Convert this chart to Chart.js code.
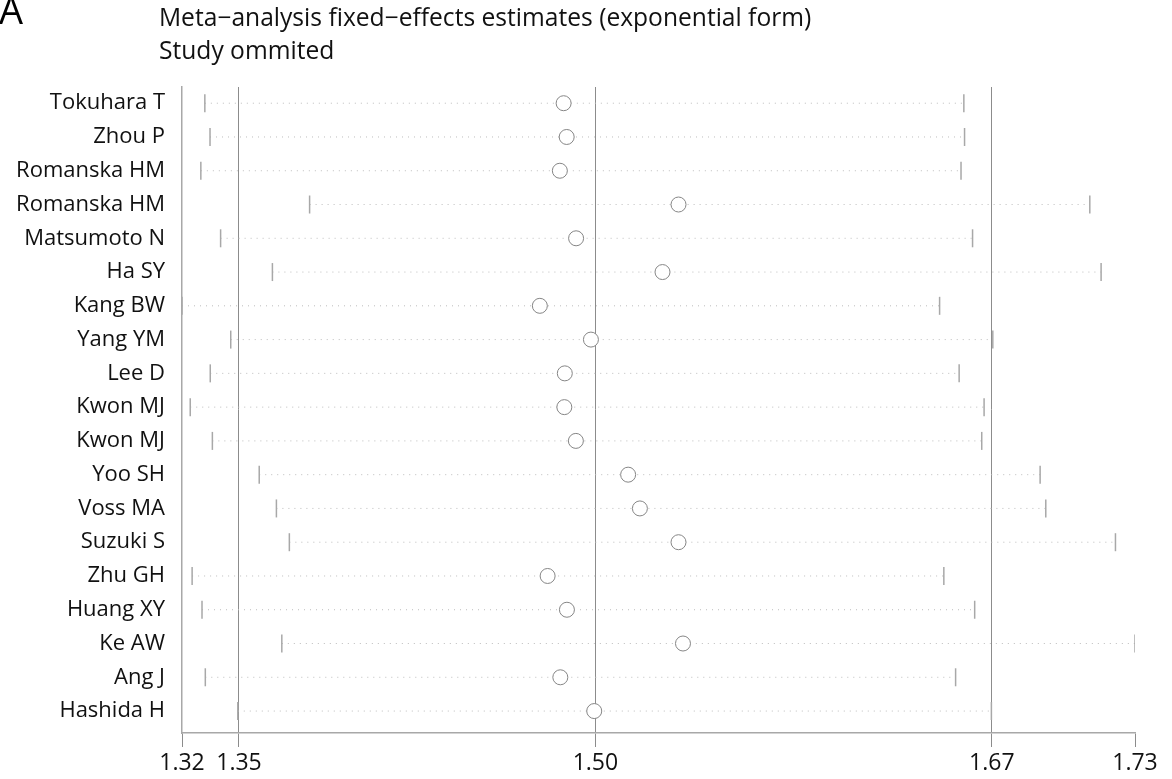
<!DOCTYPE html>
<html>
<head>
<meta charset="utf-8">
<script src="https://cdn.jsdelivr.net/npm/chart.js@4/dist/chart.umd.min.js"></script>
<style>
  html, body { margin: 0; padding: 0; background: #fff; }
  #wrap { position: relative; width: 1172px; height: 779px; overflow: hidden; }
  #panel { position: absolute; left: -1px; top: -17px; font: 38px "Open Sans", sans-serif; color: #000; }
  .title { position: absolute; left: 159px; font: 24.6px "Open Sans", sans-serif; color: #111; white-space: nowrap; }
</style>
</head>
<body>
<div id="wrap">
  <div id="panel">A</div>
  <div class="title" style="top:0px">Meta−analysis fixed−effects estimates (exponential form)</div>
  <div class="title" style="top:33px">Study ommited</div>
  <canvas id="chart" width="1172" height="779"></canvas>
</div>
<script>
// studies omitted, top to bottom
const studies = ['Tokuhara T', 'Zhou P', 'Romanska HM', 'Romanska HM', 'Matsumoto N', 'Ha SY', 'Kang BW',
  'Yang YM', 'Lee D', 'Kwon MJ', 'Kwon MJ', 'Yoo SH', 'Voss MA', 'Suzuki S', 'Zhu GH', 'Huang XY',
  'Ke AW', 'Ang J', 'Hashida H'];

// pooled estimate with study omitted, and its 95% CI
const estimate = [1.4865, 1.4878, 1.4849, 1.5353, 1.4918, 1.5285, 1.4764, 1.4981, 1.4870, 1.4868,
  1.4917, 1.5139, 1.5189, 1.5353, 1.4797, 1.4879, 1.5372, 1.4851, 1.4995];
const lower = [1.3341, 1.3363, 1.3324, 1.3786, 1.3408, 1.3628, 1.3244, 1.3451, 1.3364, 1.3279,
  1.3373, 1.3572, 1.3645, 1.3700, 1.3287, 1.3329, 1.3668, 1.3343, 1.3481];
const upper = [1.6565, 1.6568, 1.6553, 1.7100, 1.6602, 1.7148, 1.6462, 1.6688, 1.6545, 1.6651,
  1.6641, 1.6889, 1.6913, 1.7209, 1.6480, 1.6611, 1.7292, 1.6530, 1.6682];

// x ticks: min lower, overall lower CI, overall estimate, overall upper CI, max upper
const tickValues = [1.3244, 1.3486, 1.5000, 1.6684, 1.7292];
const tickLabels = ['1.32', '1.35', '1.50', '1.67', '1.73'];

const family = '"Open Sans", sans-serif';

// one dotted line per row
const ciLines = studies.map((s, i) => ({
  type: 'scatter',
  data: [{ x: lower[i], y: i + 1 }, { x: upper[i], y: i + 1 }],
  showLine: true,
  borderColor: '#bdbdbd',
  borderWidth: 1,
  borderDash: [1, 5],
  pointRadius: 0,
  order: 2
}));

const caps = {
  type: 'scatter',
  data: studies.flatMap((s, i) => [{ x: lower[i], y: i + 1 }, { x: upper[i], y: i + 1 }]),
  pointStyle: 'line',
  rotation: 90,
  pointRadius: 9,
  borderColor: '#a8a8a8',
  borderWidth: 1.5,
  order: 1
};

const points = {
  type: 'scatter',
  data: studies.map((s, i) => ({ x: estimate[i], y: i + 1 })),
  pointStyle: 'circle',
  pointRadius: 7.5,
  backgroundColor: '#fff',
  borderColor: '#858585',
  borderWidth: 1,
  order: 0
};

new Chart(document.getElementById('chart'), {
  type: 'scatter',
  data: { datasets: [points, caps, ...ciLines] },
  options: {
    responsive: false,
    animation: false,
    layout: { padding: { top: 87, right: 37, left: 0, bottom: 0 } },
    plugins: { legend: { display: false }, tooltip: { enabled: false } },
    scales: {
      x: {
        type: 'linear',
        min: tickValues[0],
        max: tickValues[tickValues.length - 1],
        afterBuildTicks: scale => { scale.ticks = tickValues.map(v => ({ value: v })); },
        afterFit: scale => { scale.height = 46; },
        ticks: {
          callback: (v, i) => tickLabels[i],
          color: '#111',
          font: { family: family, size: 23 },
          padding: 3,
          maxRotation: 0,
          autoSkip: false
        },
        grid: {
          color: ctx => (ctx.index > 0 && ctx.index < tickValues.length - 1) ? '#8c8c8c' : 'rgba(0,0,0,0)',
          tickColor: '#8c8c8c',
          tickLength: 14,
          lineWidth: 1
        },
        border: { color: '#a8a8a8', width: 1.5 }
      },
      y: {
        type: 'linear',
        reverse: true,
        min: 0.52,
        max: 19.65,
        afterBuildTicks: scale => { scale.ticks = studies.map((s, i) => ({ value: i + 1 })); },
        afterFit: scale => { scale.width = 182; },
        ticks: {
          callback: v => studies[v - 1],
          color: '#111',
          font: { family: family, size: 22 },
          padding: 17,
          autoSkip: false
        },
        grid: { display: false, drawTicks: false },
        border: { color: '#a8a8a8', width: 1.5 }
      }
    }
  }
});
</script>
</body>
</html>
